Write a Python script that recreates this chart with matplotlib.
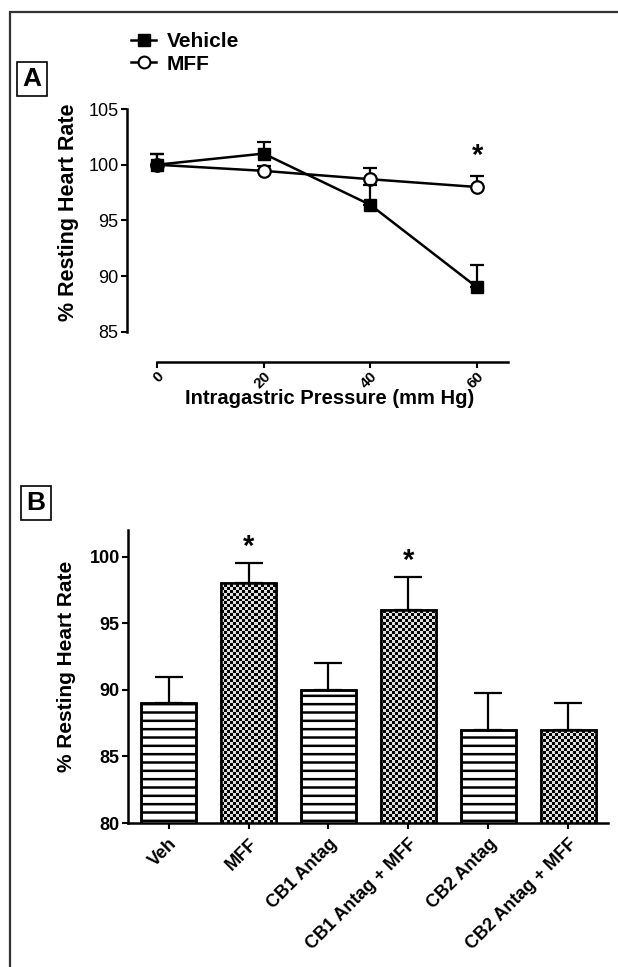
import numpy as np
import matplotlib
matplotlib.use("Agg")
import matplotlib.pyplot as plt
import matplotlib.patches as mpatches
from matplotlib.lines import Line2D

plt.rcParams["font.family"] = ["Liberation Sans", "DejaVu Sans"]
plt.rcParams["hatch.linewidth"] = 1.8

# Panel A data
pressure = [0, 20, 40, 60]
vehicle_mean = [100, 101, 96.4, 89]
vehicle_upper = [101, 102, 98.2, 91]
mff_mean = [100, 99.45, 98.7, 98]
mff_upper = [101, 99.9, 99.7, 99]
a_ticks = [0, 20, 40, 60]
a_yticks = [85, 90, 95, 100, 105]

# Panel B data
groups = ["Veh", "MFF", "CB1 Antag", "CB1 Antag + MFF", "CB2 Antag", "CB2 Antag + MFF"]
bar_mean = [89, 98, 90, 96, 87, 87]
bar_upper = [91, 99.5, 92, 98.5, 89.75, 89]
checkered = [False, True, False, True, False, True]
significant = [False, True, False, True, False, False]
b_yticks = [80, 85, 90, 95, 100]

W, H = 618, 967
fig = plt.figure(figsize=(W / 100, H / 100), dpi=100)

def fx(px):
    return px / W

def fy(py):
    return 1 - py / H

# outer frame
fig.add_artist(mpatches.Rectangle((fx(10), -0.02), 1.1, fy(12) + 0.02, transform=fig.transFigure,
                                  fill=False, lw=1.6, ec="#333333"))

# ---------- Panel A ----------
axA = fig.add_axes([fx(127), fy(362), fx(508) - fx(127), fy(109) - fy(362)])
up_v = np.array(vehicle_upper) - np.array(vehicle_mean)
up_m = np.array(mff_upper) - np.array(mff_mean)
axA.errorbar(pressure, mff_mean, yerr=[np.zeros(4), up_m], color="black", lw=1.8,
             marker="o", ms=9, mfc="white", mec="black", mew=1.6, capsize=5, capthick=1.6,
             elinewidth=1.6, zorder=3)
axA.errorbar(pressure, vehicle_mean, yerr=[np.zeros(4), up_v], color="black", lw=1.8,
             marker="s", ms=8.5, mfc="black", mec="black", capsize=5, capthick=1.6,
             elinewidth=1.6, zorder=4)
axA.text(60, mff_upper[3] + 0.5, "*", ha="center", va="bottom", fontsize=21, fontweight="bold")

axA.set_xlim(-5.6, 65.8)
axA.set_ylim(82.3, 105)
axA.spines["top"].set_visible(False)
axA.spines["right"].set_visible(False)
axA.spines["left"].set_bounds(85, 105)
axA.spines["bottom"].set_bounds(0, 65.8)
for s in ["left", "bottom"]:
    axA.spines[s].set_linewidth(1.8)
axA.set_yticks(a_yticks)
axA.set_xticks(a_ticks)
axA.set_xticklabels([str(t) for t in a_ticks], rotation=45, ha="right", va="top",
                    rotation_mode="anchor", fontsize=11, fontweight="bold")
axA.tick_params(axis="y", width=1.5, length=4, labelsize=13, pad=2)
axA.tick_params(axis="x", width=1.5, length=4, pad=1)
axA.set_ylabel("% Resting Heart Rate", fontsize=15.5, fontweight="bold")
axA.yaxis.set_label_coords(-0.127, 0.59)
axA.set_xlabel("Intragastric Pressure (mm Hg)", fontsize=14.5, fontweight="bold")
axA.xaxis.set_label_coords(0.533, -0.108)

handles = [Line2D([], [], color="black", lw=1.8, marker="s", ms=8, mfc="black"),
           Line2D([], [], color="black", lw=1.8, marker="o", ms=8.5, mfc="white", mew=1.5)]
fig.legend(handles, ["Vehicle", "MFF"], loc="center left", bbox_to_anchor=(fx(121), fy(53)),
           frameon=False, prop={"weight": "bold", "size": 15}, handlelength=1.2,
           handletextpad=0.5, labelspacing=0.15, borderpad=0)

fig.text(fx(32), fy(79), "A", ha="center", va="center", fontsize=19, fontweight="bold",
         bbox=dict(boxstyle="square,pad=0.2", fc="white", ec="black", lw=1.2))

# ---------- Panel B ----------
axB = fig.add_axes([fx(128), fy(823), fx(608) - fx(128), fy(530) - fy(823)])
xpos = np.arange(len(groups))
bars = axB.bar(xpos, bar_mean, width=0.69, bottom=0, color="white", edgecolor="black",
               linewidth=1.8, zorder=2)
axB.set_xlim(-0.51, 5.5)
axB.set_ylim(80, 102)

# checkerboard texture for MFF groups
nx, ny = 160, 98
cb = (np.indices((ny, nx)).sum(axis=0) % 2).astype(float)
for bar, chk in zip(bars, checkered):
    if chk:
        im = axB.imshow(cb, cmap="gray", extent=(-0.51, 5.5, 80, 102), aspect="auto",
                        interpolation="nearest", zorder=2.5, vmin=0, vmax=1.15)
        im.set_clip_path(bar)
    else:
        bar.set_hatch("--")
# re-draw edges on top
for bar in bars:
    axB.add_patch(mpatches.Rectangle(bar.get_xy(), bar.get_width(), bar.get_height(),
                                     fill=False, ec="black", lw=1.8, zorder=3))
up_b = np.array(bar_upper) - np.array(bar_mean)
axB.errorbar(xpos, bar_mean, yerr=[np.zeros(len(xpos)), up_b], fmt="none", ecolor="black",
             elinewidth=1.6, capsize=10, capthick=1.6, zorder=1)
for i, sig in enumerate(significant):
    if sig:
        axB.text(xpos[i], bar_upper[i] + 0.15, "*", ha="center", va="bottom", fontsize=21,
                 fontweight="bold")

axB.set_xlim(-0.51, 5.5)
axB.set_ylim(80, 102)
axB.spines["top"].set_visible(False)
axB.spines["right"].set_visible(False)
for s in ["left", "bottom"]:
    axB.spines[s].set_linewidth(1.8)
axB.set_yticks(b_yticks)
axB.set_xticks(xpos)
axB.set_xticklabels(groups, rotation=45, ha="right", va="top", rotation_mode="anchor",
                    fontsize=13, fontweight="bold")
for lbl in axB.get_yticklabels():
    lbl.set_fontweight("bold")
axB.tick_params(axis="both", width=1.5, length=4, labelsize=13, pad=2)
axB.tick_params(axis="x", pad=5)
axB.set_ylabel("% Resting Heart Rate", fontsize=15, fontweight="bold")
axB.yaxis.set_label_coords(-0.108, 0.536)

fig.text(fx(36), fy(503), "B", ha="center", va="center", fontsize=19, fontweight="bold",
         bbox=dict(boxstyle="square,pad=0.2", fc="white", ec="black", lw=1.2))

fig.savefig("out.png", dpi=100)
